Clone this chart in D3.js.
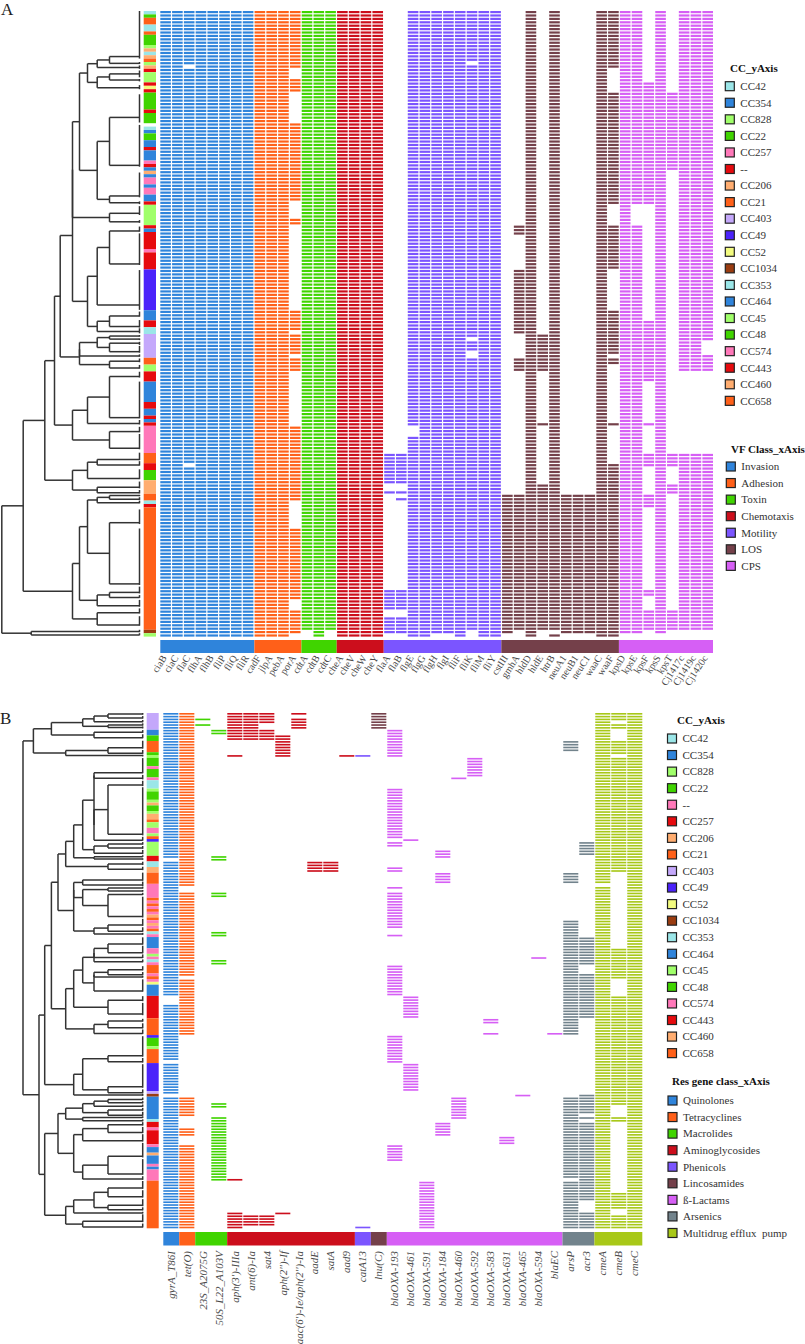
<!DOCTYPE html>
<html><head><meta charset="utf-8">
<style>html,body{margin:0;padding:0;background:#fff}svg{display:block}text{font-family:"Liberation Serif",serif}</style>
<script src="https://cdn.jsdelivr.net/npm/d3@7"></script></head>
<body><svg id="c" width="805" height="1344"></svg>
<script>
const ccNames=["CC42","CC354","CC828","CC22","CC257","--","CC206","CC21","CC403","CC49","CC52","CC1034","CC353","CC464","CC45","CC48","CC574","CC443","CC460","CC658"];
const ccColorsA=["#9be6e8","#2f84db","#a0ff6a","#40d400","#ff78b9","#e60a0e","#ffad70","#ff6019","#c4a8fb","#4b22fa","#f3fb7f","#9a3c10","#9be6e8","#2f84db","#a0ff6a","#40d400","#ff78b9","#e60a0e","#ffad70","#ff6019"];
const ccNamesB=["CC42","CC354","CC828","CC22","--","CC257","CC206","CC21","CC403","CC49","CC52","CC1034","CC353","CC464","CC45","CC48","CC574","CC443","CC460","CC658"];

const rowCount=184;
const rowRunsA=[["CC42",1],["CC22",1],["CC21",2],["CC42",2],["CC21",1],["CC22",3],["CC828",1],["CC206",1],["CC42",1],["CC206",1],["CC21",1],["CC828",1],["CC206",1],["--",1],["CC828",3],["--",1],["CC52",1],["--",1],["CC22",5],["--",1],["CC22",3],[null,1],["CC42",1],["CC354",1],["CC22",2],["CC354",2],["--",1],["CC354",3],["CC257",1],["--",1],["CC354",1],["CC206",1],["CC354",1],["CC257",2],["CC354",1],["CC257",2],["CC354",2],["--",1],["CC828",6],["--",1],["CC354",1],["--",5],["CC257",1],["--",5],["CC49",12],["CC354",3],["--",2],["CC42",2],["CC403",7],["CC21",2],["CC828",2],["--",3],["CC354",6],["--",2],["CC354",2],["--",1],["CC354",1],["--",1],["CC257",8],["CC21",3],["--",2],["CC22",3],["CC206",4],["CC21",2],["CC42",1],["--",1],["CC21",36],["CC1034",1],["CC828",1]];
const rowRunsB=[["CC403",6],["CC354",2],["CC22",2],["CC21",4],["CC22",1],["CC828",1],["CC22",3],["--",1],["CC22",3],["--",1],["CC42",3],["CC828",1],["CC22",3],["CC828",1],["CC206",1],["CC22",2],["CC828",1],["CC206",2],["CC21",1],["CC828",2],["--",2],["CC828",1],["CC21",1],["CC49",1],["CC828",5],["CC257",2],["CC42",2],["CC206",2],["CC21",4],["--",5],["CC21",1],["--",1],["CC21",1],["--",1],["CC21",1],["--",1],["CC206",1],["CC21",1],["--",1],["CC206",1],["--",1],["CC21",1],["CC42",1],["--",1],["CC354",4],["--",2],["CC828",1],["--",1],["CC42",1],["--",1],["CC21",3],["--",1],["CC21",1],["--",1],["CC52",1],["CC354",4],["CC257",8],["CC21",6],["CC49",1],["CC22",3],["CC828",1],["CC21",5],["CC49",10],["CC403",1],["CC1034",1],["CC354",8],["CC42",1],["CC257",2],["--",1],["CC257",5],["--",1],["CC354",2],["CC206",1],["CC354",3],["--",1],["CC354",1],["--",4],["CC21",17]];

const genesA=["ciaB","ciaC","flaC","flhA","flhB","fliP","fliQ","fliR","cadF","jlpA","pebA","porA","cdtA","cdtB","cdtC","cheA","cheV","cheW","cheY","flaA","flaB","flgE","flgG","flgH","flgI","fliF","fliK","fliM","fliY","cstIII","gmhA","hldD","hldE","htrB","neuA1","neuB1","neuC1","waaC","waaF","kpsD","kpsE","kpsF","kpsS","kpsT","Cj1417c","Cj1419c","Cj1420c"];
const all=[[0,183]];
const presentA=[all,all,[[0,15],[17,132],[134,183]],all,all,all,all,all,
 all,all,all,[[0,16],[20,23],[33,55],[61,62],[88,93],[95,100],[102,105],[122,143],[152,172],[176,182]],
 [[0,181]],all,[[0,181]],
 all,all,all,all,
 [[130,138],[141,141],[170,175],[178,182]],[[130,138],[141,141],[143,143],[170,175],[178,182]],[[0,121],[125,183]],all,[[0,182]],[[0,182]],all,[[0,14],[16,95],[97,99],[102,181]],all,all,
 [[142,182]],[[63,65],[76,94],[102,105],[142,181]],all,[[95,105],[121,121],[139,181]],[[0,181],[183,183]],[[142,182]],[[142,182]],[[142,182]],all,[[0,16],[24,56],[63,75],[88,100],[102,103],[121,121],[133,183]],
 [[0,182]],[[0,56],[63,182]],[[21,56],[91,108],[121,121],[130,133],[142,145],[170,171],[176,181]],[[0,182]],[[24,46],[130,133],[139,141],[176,181]],[[0,105],[130,181]],[[0,105],[130,181]],[[0,96],[101,105],[130,181]]];
const classNamesA=["Invasion","Adhesion","Toxin","Chemotaxis","Motility","LOS","CPS"];
const classSizesA=[8,4,3,4,10,10,8];
const classColorsA=["#2f84db","#ff6019","#40d400","#cc0e1c","#7b55ff","#74404a","#d65ff5"];

const genesB=["gyrA_T86I","tet(O)","23S_A2075G","50S_L22_A103V","aph(3')-IIIa","ant(6)-Ia","sat4","aph(2'')-If","aac(6')-Ie/aph(2'')-Ia","aadE","satA","aad9","catA13","lnu(C)","blaOXA-193","blaOXA-461","blaOXA-591","blaOXA-184","blaOXA-460","blaOXA-592","blaOXA-583","blaOXA-631","blaOXA-465","blaOXA-594","blaEC","arsP","acr3","cmeA","cmeB","cmeC"];
const presentB=[[[0,51],[53,100],[104,123],[125,135],[137,183]],[[0,61],[64,93],[95,114],[137,143],[148,150],[154,183]],
 [[2,2],[4,4]],[[6,7],[51,52],[64,65],[78,79],[88,89],[139,140],[144,166]],
 [[0,9],[15,15],[166,166],[178,183]],[[0,9],[179,182]],[[0,3],[6,9],[179,182]],[[8,15],[178,178]],[[0,0],[2,5]],[[53,56]],[[53,56]],[[15,15]],
 [[15,15],[183,183]],[[0,5]],
 [[6,15],[27,44],[46,47],[55,56],[62,62],[64,76],[79,79],[90,100],[115,124],[154,159]],[[45,45],[101,108],[125,134]],[[167,183]],[[49,51],[57,60],[146,150]],[[23,23],[137,144]],[[16,22]],[[109,110],[114,114]],[[151,153]],[[136,136]],[[87,87]],[[114,114]],
 [[10,13],[57,60],[74,114],[137,165],[167,183]],[[46,50],[80,89],[93,108],[136,142],[144,144],[146,173],[178,183]],
 [[0,60],[62,183]],[[0,2],[4,5],[10,14],[16,56],[84,94],[101,139],[144,145],[171,176],[179,183]],all];
const classNamesB=["Quinolones","Tetracyclines","Macrolides","Aminoglycosides","Phenicols","Lincosamides","ß-Lactams","Arsenics","Multidrug efflux  pump"];
const classSizesB=[1,1,2,8,1,1,11,2,3];
const classColorsB=["#2f84db","#ff6019","#40d400","#cc0e1c","#7b55ff","#74404a","#d65ff5","#72838c","#a8c818"];

// dendrogram leaves: [anchor row, span start, span end]
const leavesA=[[13.4,0,14],[15.4,15,15.6],[16.6,16,17],[18.5,17.5,19.5],[20.3,20,20.7],[22.6,21.8,23],[31.3,24.5,32.8],[45.4,33.5,45.8],[54.4,47.5,54.8],[56.4,56,56.8],[59.5,57.4,60],[62,61.5,62.3],[64.7,63.4,64.9],[74.4,65.4,74.7],[86.5,76.2,87.9],[89.7,88.4,89.9],[92.8,90.9,93.1],[94.3,93.3,94.8],[95.6,95.3,95.8],[96.5,96.3,96.8],[97.7,97.3,98.2],[100.2,98.5,100.5],[101.5,101,101.7],[103,102.2,103.3],[105,104.1,105.2],[107.5,106.1,107.8],[119.6,109,119.8],[121.3,120.3,121.6],[123.7,122.3,123.9],[128.6,124.4,128.9],[131.9,129.9,132.1],[133.5,132.4,133.7],[137.5,134.8,137.7],[140.1,138.4,140.4],[141.7,140.9,141.9],[142.5,142.3,142.7],[143.6,143,143.8],[144.6,144,144.8],[150.5,146.6,150.9],[168.5,152.2,168.8],[171,169.3,171.3],[172.5,171.8,172.6],[174.9,173.2,175.2],[177,175.7,177.2],[180.6,178,180.8],[182.5,182,182.7],[183.5,183,183.6]];
const treeA=[137.7,[116.3,[94.7,[85,[79.3,[67,[67,[60,[52,[42.3,[30,0,1],2],[42.3,[30,3,4],5]],[42.3,[30,6,7],[30,8,9]]],[30,10,11]],[52,[42.3,[30,12,13],14],[42.3,[30,15,16],17]]],[60,[60,[42.3,[30,18,19],[30,20,21]],22],[30,23,24]]],[67,[52,[30,25,26],27],[30,28,29]]],[67,[52,[42.3,30,31],32],[42.3,33,34]]],[67,[60,[52,[42.3,[30,35,36],37],[30,38,39]],[42.3,[30,40,41],42]],[42.3,43,44]]],[108.3,45,46]];
const leavesB=[[0.36,0,0.6],[1.8,1.1,2],[3.1,2.5,3.3],[4.3,3.7,4.5],[5.2,4.8,5.5],[6.9,6.1,7.1],[8.8,7.6,9],[12.4,9.9,12.7],[14.4,13.2,14.6],[15.2,14.9,15.5],[21.3,16.1,21.5],[23.3,22.1,23.7],[25.7,24.2,26.1],[43.3,26.5,43.7],[45.4,44.2,45.6],[46.8,46.1,47],[48.2,47.5,48.5],[50.1,48.9,50.4],[51.3,50.8,51.4],[52.1,51.9,52.4],[53.9,53.1,54.3],[55.8,54.9,56.1],[59.6,57,59.9],[61.4,60.2,61.8],[62.5,62,62.7],[63.6,63.2,63.8],[64.8,64.2,65],[72.7,65.6,73],[75.7,73.5,76],[77.9,76.5,78.1],[78.9,78.5,79.2],[82.5,80.1,82.7],[85.6,83.1,85.8],[87.3,86.2,87.5],[88.8,88,89],[91.7,90.4,91.9],[93.5,92.5,93.7],[94.3,93.9,94.5],[99.3,95.1,99.5],[102.6,101.1,102.9],[107.5,103.5,107.9],[110,109.2,110.2],[112.4,110.8,112.6],[114.4,113,114.6],[122.4,115.4,122.7],[124.5,123.2,124.8],[133.5,125.4,133.8],[135.6,134.4,135.8],[136.4,136,136.7],[138,137.3,138.2],[139.2,138.6,139.4],[140.4,139.8,140.6],[141.8,141,142],[143.6,142.4,143.8],[144.4,144,144.6],[145.6,145.1,145.8],[147,146.1,147.3],[149.8,147.8,150],[152.7,150.4,153],[158.3,153.5,158.7],[164.6,159.3,164.9],[166.4,165.4,166.7],[169.6,167.1,169.9],[172.7,170.4,173],[175.8,173.6,176.1],[177.4,176.5,177.6],[178.5,178.1,178.7],[181.5,179,181.8],[183.5,182.3,183.7]];
const treeB=[119.7,[109.3,[91.3,[60,[48.7,[34.7,0,1],2],[34.7,3,4]],[48.7,5,6]],[77,[34.7,7,8],9]],[103.7,[98,[91.3,[84.7,[77,[69,[60,[48.7,[48.7,10,11],[48.7,[34.7,12,13],14]],[48.7,[34.7,15,16],17]],[48.7,18,19]],[34.7,20,21]],[69,[69,[60,22,23],[60,[34.7,24,25],[34.7,26,27]]],[48.7,[34.7,28,29],30]]],[77,[69,[60,[48.7,[48.7,[34.7,31,32],33],34],[48.7,[48.7,[34.7,35,36],37],38]],[34.7,39,40]],[48.7,[34.7,41,42],43]]],[69,[60,[34.7,44,45],[34.7,46,47]],48]],[98,[84.7,[77,[60,[48.7,[34.7,49,50],51],[34.7,52,53]],[60,54,55]],[69,[60,[34.7,56,57],58],[60,[34.7,59,60],61]]],[77,[69,[48.7,[34.7,62,63],[34.7,64,65]],66],[60,67,68]]]]];

const svg=d3.select("#c");

function drawTree(g,tree,leaves,x,y){
  const root=d3.hierarchy(tree,d=>Array.isArray(d)?d.slice(1):null);
  root.eachAfter(n=>{
    if(n.children){n.h=n.data[0];n.r=(n.children[0].r+n.children[1].r)/2;}
    else{n.h=0;n.leaf=leaves[n.data];n.r=n.leaf[0];}
  });
  const style=s=>s.attr("stroke","#333").attr("stroke-width",1.5).attr("fill","none");
  g.selectAll(".v").data(root.descendants().filter(n=>n.children)).join("path").attr("class","v")
    .attr("d",n=>`M${x(n.h)},${y(n.children[0].r)}V${y(n.children[1].r)}`).call(style);
  g.selectAll(".h").data(root.descendants().filter(n=>n.parent)).join("path").attr("class","h")
    .attr("d",n=>`M${x(n.parent.h)},${y(n.r)}H${x(n.h)}`).call(style);
  g.selectAll(".l").data(root.leaves()).join("path").attr("class","l")
    .attr("d",n=>`M${x(0)},${y(n.leaf[1])}V${y(n.leaf[2])}`).call(style);
}

function drawPanel(o){
  const g=svg.append("g");
  const rows=d3.range(rowCount);
  const yBand=d3.scaleBand().domain(rows).range(o.yRange).paddingInner(o.rowPad);
  const yLin=d3.scaleLinear().domain([0,rowCount]).range(o.yRange);
  const xBand=d3.scaleBand().domain(o.genes).range(o.xRange).paddingInner(o.colPad);
  const xStep=d3.scaleLinear().domain([0,o.genes.length]).range(o.xRange);
  const color=d3.scaleOrdinal().domain(o.ccNames).range(ccColorsA);
  const classIdx=[];o.classSizes.forEach((n,i)=>{for(let k=0;k<n;k++)classIdx.push(i);});
  const cells=[];
  o.present.forEach((rs,c)=>rs.forEach(([a,b])=>{for(let r=a;r<=b;r++)cells.push({c,r});}));
  g.append("g").selectAll("rect").data(cells).join("rect")
    .attr("x",d=>xBand(o.genes[d.c])).attr("width",xBand.bandwidth())
    .attr("y",d=>yBand(d.r)).attr("height",yBand.bandwidth())
    .attr("fill",d=>o.classColors[classIdx[d.c]]);
  // row annotation
  let acc=0;const runs=o.rowRuns.map(([n,k])=>{const s=acc;acc+=k;return{n,s,e:acc};});
  g.append("g").selectAll("rect").data(runs.filter(d=>d.n)).join("rect")
    .attr("x",o.annoX[0]).attr("width",o.annoX[1]-o.annoX[0])
    .attr("y",d=>yLin(d.s)).attr("height",d=>yLin(d.e)-yLin(d.s))
    .attr("fill",d=>color(d.n));
  // class bar
  let c0=0;const cr=o.classSizes.map((n,i)=>{const s=c0;c0+=n;return{i,s,e:c0};});
  g.append("g").selectAll("rect").data(cr).join("rect")
    .attr("x",d=>xStep(d.s)).attr("width",d=>xStep(d.e)-xStep(d.s))
    .attr("y",o.barY[0]).attr("height",o.barY[1]-o.barY[0])
    .attr("fill",d=>o.classColors[d.i]);
  // labels
  g.append("g").selectAll("text").data(o.genes).join("text")
    .text(d=>d).attr("text-anchor","end").attr("fill","#4a4a4a")
    .attr("font-size",o.labelSize).attr("font-style",o.labelStyle)
    .attr("transform",(d,i)=>`translate(${xStep(i+0.5)+o.labelDx},${o.labelY}) rotate(${o.labelAngle})`);
  // tree
  const xT=d3.scaleLinear().domain([0,o.treeMax]).range([o.treeX0,o.treeX0-o.treeMax]);
  drawTree(g.append("g"),o.tree,o.leaves,xT,yLin);
  // letter
  g.append("text").text(o.letter).attr("x",o.letterPos[0]).attr("y",o.letterPos[1]).attr("font-size",17).attr("fill","#222");
  legend(g,"CC_yAxis",o.ccNames,o.ccNames.map(n=>color(n)),o.leg1);
  legend(g,o.classTitle,o.classNames,o.classColors,o.leg2);
}
function legend(g,title,names,cols,p){
  g.append("text").text(title).attr("x",p.tx).attr("y",p.ty).attr("font-weight","bold").attr("font-size",11).attr("fill","#111");
  const it=g.append("g").selectAll("g").data(names).join("g")
    .attr("transform",(d,i)=>`translate(${p.x},${p.y+i*16.56})`);
  it.append("rect").attr("width",9).attr("height",9).attr("fill",(d,i)=>cols[i]).attr("stroke","#222").attr("stroke-width",1.2);
  it.append("text").text(d=>d).attr("x",p.dx).attr("y",8.3).attr("font-size",11).attr("fill","#333").style("white-space","pre");
}

drawPanel({letter:"A",letterPos:[1,15],yRange:[11,636.6],xRange:[160.3,713],rowPad:0.36,colPad:0.1,genes:genesA,present:presentA,
 ccNames,classNames:classNamesA,classSizes:classSizesA,classColors:classColorsA,rowRuns:rowRunsA,annoX:[143.7,156],barY:[640,653],
 labelSize:10,labelStyle:"normal",labelAngle:-57,labelDx:1,labelY:658,tree:treeA,leaves:leavesA,treeX0:139.5,treeMax:137.7,classTitle:"VF Class_xAxis",
 leg1:{tx:730,ty:72,x:725.3,y:81.7,dx:15},leg2:{tx:731,ty:452.5,x:726.3,y:462,dx:15}});
drawPanel({letter:"B",letterPos:[0,724],yRange:[713,1228.3],xRange:[163.3,642.3],rowPad:0.42,colPad:0.06,genes:genesB,present:presentB,
 ccNames:ccNamesB,classNames:classNamesB,classSizes:classSizesB,classColors:classColorsB,rowRuns:rowRunsB,annoX:[146.7,158.7],barY:[1232,1245.5],
 labelSize:11,labelStyle:"italic",labelAngle:-90,labelDx:3.5,labelY:1251,tree:treeB,leaves:leavesB,treeX0:142.7,treeMax:119.7,classTitle:"Res gene class_xAxis",
 leg1:{tx:677,ty:724,x:667.5,y:734,dx:15},leg2:{tx:672,ty:1084.5,x:668,y:1096,dx:15}});
</script></body></html>
